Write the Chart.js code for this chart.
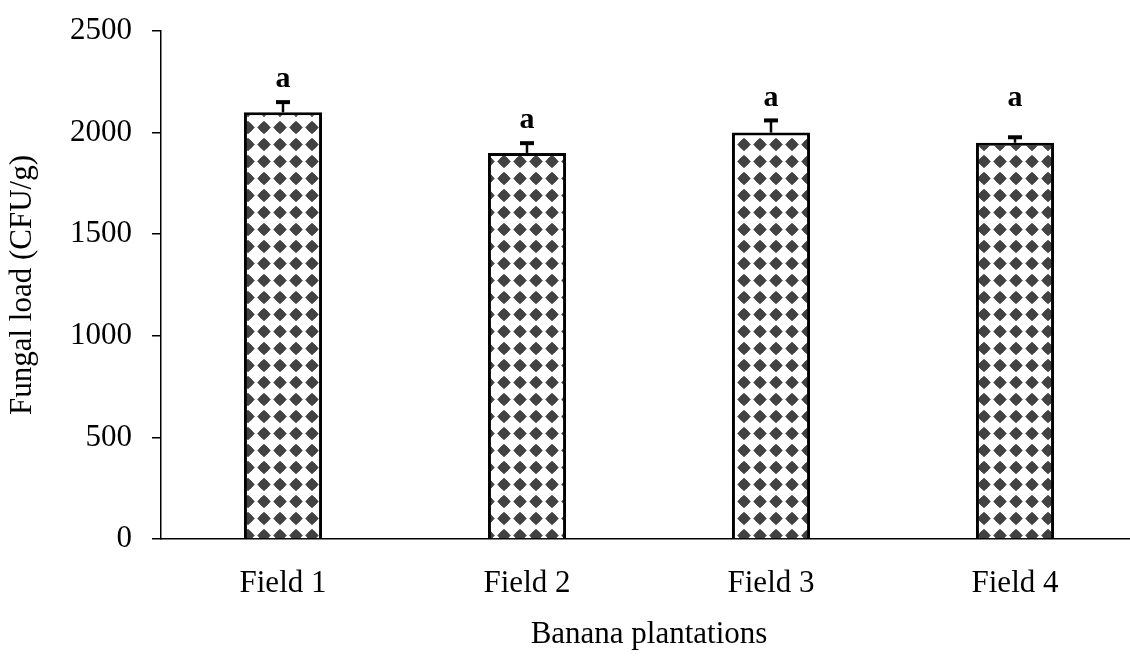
<!DOCTYPE html>
<html>
<head>
<meta charset="utf-8">
<script src="https://cdn.jsdelivr.net/npm/chart.js@4"></script>
<style>
  html, body { margin: 0; padding: 0; background: #fff; overflow: hidden; }
  #wrap { width: 1137px; height: 657px; }
</style>
</head>
<body>
<div id="wrap"><canvas id="chart" width="1137" height="657"></canvas></div>
<script>
// Data
const fields = ['Field 1', 'Field 2', 'Field 3', 'Field 4'];
const fungalLoad = [2100, 1900, 2000, 1950];
const errorUp = [50, 48, 60, 27];
const groupLetters = ['a', 'a', 'a', 'a'];
const letterAt = [2265, 2060, 2170, 2170];
const yTicks = [0, 500, 1000, 1500, 2000, 2500];

const serif = '"Liberation Serif", "Times New Roman", serif';

// Diamond pattern like the Excel fill
function makePattern() {
    const c = document.createElement('canvas');
    c.width = 16;
    c.height = 17;
    const g = c.getContext('2d');
    g.fillStyle = '#fff';
    g.fillRect(0, 0, 16, 17);
    g.fillStyle = '#424242';
    const cx = 8, cy = 8.5;
    g.beginPath();
    g.moveTo(cx, cy - 6.8);
    g.lineTo(cx + 6.8, cy);
    g.lineTo(cx, cy + 6.8);
    g.lineTo(cx - 6.8, cy);
    g.closePath();
    g.fill();
    g.beginPath();
    g.arc(cx, cy, 4.9, 0, Math.PI * 2);
    g.fill();
    return g.createPattern(c, 'repeat');
}

// Error bars and letters
const errorBars = {
    id: 'errorBars',
    afterDatasetsDraw(chart) {
        const ctx = chart.ctx;
        const y = chart.scales.y;
        const meta = chart.getDatasetMeta(0);
        ctx.save();
        ctx.strokeStyle = '#000';
        meta.data.forEach((bar, i) => {
            const top = y.getPixelForValue(fungalLoad[i] + errorUp[i]);
            ctx.lineWidth = 2.5;
            ctx.beginPath();
            ctx.moveTo(bar.x, bar.y);
            ctx.lineTo(bar.x, top);
            ctx.stroke();
            ctx.lineWidth = 4;
            ctx.beginPath();
            ctx.moveTo(bar.x - 7, top);
            ctx.lineTo(bar.x + 7, top);
            ctx.stroke();

            ctx.fillStyle = '#000';
            ctx.font = 'bold 30px ' + serif;
            ctx.textAlign = 'center';
            ctx.textBaseline = 'middle';
            ctx.fillText(groupLetters[i], bar.x, y.getPixelForValue(letterAt[i]));
        });
        ctx.restore();
    }
};

const ctx = document.getElementById('chart').getContext('2d');
new Chart(ctx, {
    type: 'bar',
    data: {
        labels: fields,
        datasets: [{
            data: fungalLoad,
            backgroundColor: makePattern(),
            borderColor: '#000',
            borderWidth: 3,
            barPercentage: 0.32,
            categoryPercentage: 1
        }]
    },
    options: {
        responsive: false,
        animation: false,
        layout: { padding: { top: 31, right: 0, left: 0, bottom: 0 } },
        plugins: {
            legend: { display: false },
            tooltip: { enabled: false }
        },
        scales: {
            x: {
                grid: { display: false },
                border: { display: true, color: '#000', width: 1.5 },
                ticks: { color: '#000', font: { family: serif, size: 31 }, padding: 18 },
                title: {
                    display: true,
                    text: 'Banana plantations',
                    color: '#000',
                    font: { family: serif, size: 31 },
                    padding: { top: 30 }
                },
                afterFit: s => { s.height = 118; }
            },
            y: {
                min: 0,
                max: 2500,
                afterBuildTicks: s => { s.ticks = yTicks.map(v => ({ value: v })); },
                grid: { drawOnChartArea: false, drawTicks: true, tickLength: 9, color: '#000', lineWidth: 1.5 },
                border: { display: true, color: '#000', width: 1.5 },
                ticks: {
                    color: '#000',
                    font: { family: serif, size: 31 },
                    padding: 20,
                    callback: v => String(v)
                },
                title: {
                    display: true,
                    text: 'Fungal load (CFU/g)',
                    color: '#000',
                    font: { family: serif, size: 31 },
                    padding: { top: 4, bottom: 0 }
                },
                afterFit: s => {
                    s.width = 161;
                    s.paddingTop = 0;
                    s.paddingBottom = 0;
                }
            }
        }
    },
    plugins: [errorBars]
});
</script>
</body>
</html>
